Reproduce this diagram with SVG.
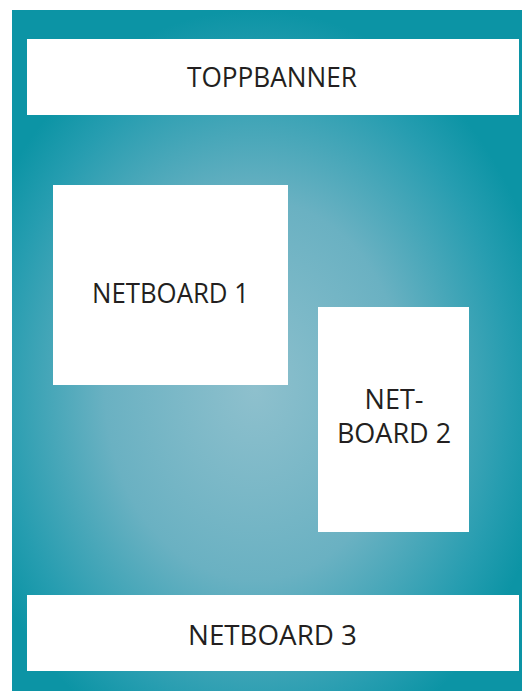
<svg xmlns="http://www.w3.org/2000/svg" width="522" height="691" viewBox="0 0 522 691">
  <defs>
    <radialGradient id="bg" gradientUnits="userSpaceOnUse" cx="0" cy="0" r="1" gradientTransform="translate(255 390) scale(300 380)">
      <stop offset="0" stop-color="#8ec0cd"/>
      <stop offset="0.5" stop-color="#6ab1c2"/>
      <stop offset="0.85" stop-color="#269db0"/>
      <stop offset="1" stop-color="#0c94a5"/>
    </radialGradient>
  </defs>
  <style>
    .box { fill: #ffffff; }
    .lbl { font-family: "Open Sans", "Noto Sans", sans-serif; font-size: 27px; fill: #231f20; text-anchor: middle; }
  </style>
  <rect x="0" y="0" width="522" height="691" fill="#ffffff"/>
  <rect x="12" y="10" width="510" height="681" fill="url(#bg)"/>
  <g id="connectors"/>
  <g id="toppbanner">
    <rect class="box" x="27" y="39" width="492" height="76"/>
    <text class="lbl" x="272" y="87" textLength="170" lengthAdjust="spacingAndGlyphs">TOPPBANNER</text>
  </g>
  <g id="netboard1">
    <rect class="box" x="53" y="185" width="235" height="200"/>
    <text class="lbl" x="170.5" y="303" textLength="157" lengthAdjust="spacingAndGlyphs">NETBOARD 1</text>
  </g>
  <g id="netboard2">
    <rect class="box" x="318" y="307" width="151" height="225"/>
    <text class="lbl" x="394" y="409">NET-</text>
    <text class="lbl" x="394" y="443">BOARD 2</text>
  </g>
  <g id="netboard3">
    <rect class="box" x="27" y="595" width="492" height="76"/>
    <text class="lbl" x="272.5" y="645" textLength="169" lengthAdjust="spacingAndGlyphs">NETBOARD 3</text>
  </g>
</svg>
